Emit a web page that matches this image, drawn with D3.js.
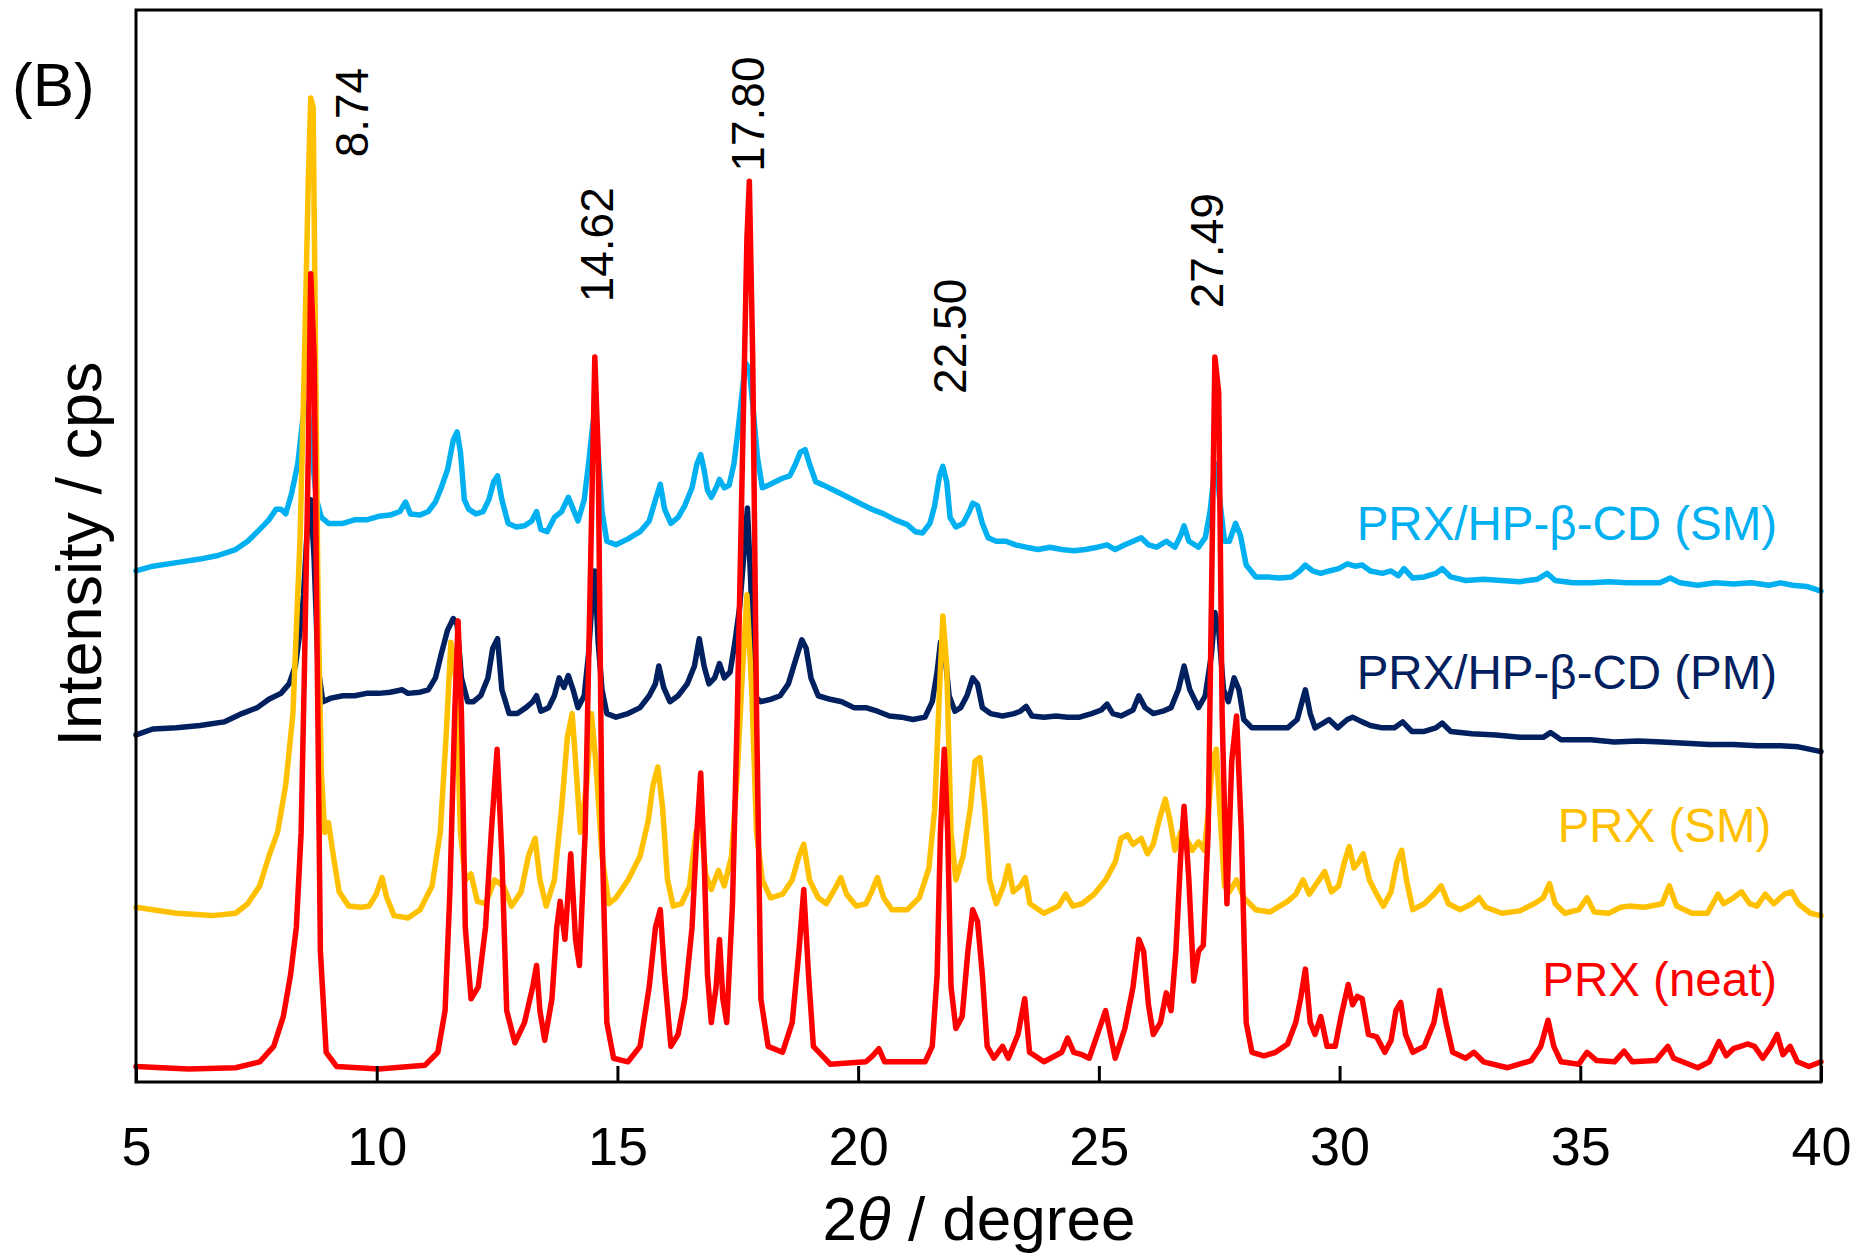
<!DOCTYPE html>
<html>
<head>
<meta charset="utf-8">
<script src="https://cdn.jsdelivr.net/npm/d3@7"></script>
<style>
  html, body { margin: 0; padding: 0; background: #fff; }
  svg { display: block; }
  text { font-family: "Liberation Sans", Arial, sans-serif; }
</style>
</head>
<body>
<div id="chart"></div>
<script>
// ---- data: [2theta (deg), intensity (a.u.)] ----
const xTicks = [5, 10, 15, 20, 25, 30, 35, 40];
const peakNames = ["8.74", "14.62", "17.80", "22.50", "27.49"];
const seriesNames = ["PRX/HP-β-CD (SM)", "PRX/HP-β-CD (PM)", "PRX (SM)", "PRX (neat)"];

const cdSM = [
  [5.00,430],[5.35,434],[5.84,437],[6.33,440],[6.70,443],[7.07,448],[7.32,455],[7.57,465],[7.76,473],[7.91,482],
  [8.01,482],[8.11,478],[8.23,495],[8.36,520],[8.43,545],[8.50,570],[8.58,565],[8.65,530],[8.75,490],[8.85,475],
  [9.00,470],[9.30,470],[9.54,473],[9.79,473],[10.04,476],[10.28,477],[10.48,480],[10.60,488],[10.70,478],[10.90,477],
  [11.07,480],[11.22,488],[11.34,500],[11.47,515],[11.59,540],[11.67,547],[11.74,530],[11.82,490],[11.91,482],[12.06,478],
  [12.21,480],[12.33,490],[12.43,505],[12.51,510],[12.60,490],[12.73,470],[12.90,467],[13.07,468],[13.22,472],[13.32,480],
  [13.41,465],[13.54,463],[13.69,475],[13.84,480],[13.98,492],[14.08,482],[14.18,472],[14.31,490],[14.40,520],[14.48,550],
  [14.53,565],[14.60,530],[14.68,480],[14.78,455],[14.97,452],[15.22,457],[15.47,463],[15.66,472],[15.79,490],[15.89,503],
  [15.98,482],[16.11,470],[16.26,475],[16.40,485],[16.55,500],[16.65,520],[16.73,528],[16.80,515],[16.87,498],[16.95,492],
  [17.05,500],[17.12,507],[17.22,500],[17.32,502],[17.42,520],[17.51,550],[17.59,580],[17.66,605],[17.74,600],[17.81,570],
  [17.91,525],[18.01,500],[18.13,502],[18.28,505],[18.43,508],[18.58,510],[18.70,520],[18.80,530],[18.90,532],[18.99,520],
  [19.12,505],[19.29,502],[19.54,497],[19.79,492],[20.03,487],[20.28,482],[20.53,478],[20.77,473],[21.02,469],[21.19,463],
  [21.34,462],[21.49,470],[21.59,485],[21.69,510],[21.76,518],[21.84,505],[21.91,475],[22.03,467],[22.18,470],[22.31,480],
  [22.38,487],[22.48,485],[22.58,470],[22.70,458],[22.87,455],[23.07,455],[23.27,452],[23.49,450],[23.74,448],[23.98,450],
  [24.23,448],[24.48,447],[24.72,448],[24.97,450],[25.17,452],[25.34,448],[25.54,452],[25.71,455],[25.88,458],[26.03,452],
  [26.20,450],[26.40,455],[26.58,450],[26.70,460],[26.77,468],[26.87,455],[27.07,450],[27.21,458],[27.31,480],[27.39,510],
  [27.44,520],[27.51,490],[27.61,455],[27.71,455],[27.84,470],[27.94,460],[28.06,435],[28.26,425],[28.50,425],[28.75,424],
  [29.00,425],[29.17,430],[29.29,435],[29.44,430],[29.61,428],[29.78,430],[29.98,432],[30.16,436],[30.32,434],[30.47,435],
  [30.64,430],[30.89,428],[31.07,430],[31.22,426],[31.34,432],[31.52,424],[31.76,425],[32.00,428],[32.13,432],[32.31,425],
  [32.62,422],[32.99,423],[33.37,422],[33.74,421],[34.11,423],[34.31,428],[34.48,422],[34.85,420],[35.22,420],[35.59,421],
  [35.96,420],[36.33,420],[36.65,420],[36.87,424],[37.07,420],[37.44,418],[37.81,420],[38.18,419],[38.55,420],[38.92,418],
  [39.16,420],[39.41,418],[39.70,417],[40.00,413]
];

const cdPM = [
  [5.00,292],[5.35,297],[5.84,298],[6.33,300],[6.83,303],[7.20,310],[7.52,315],[7.76,322],[8.01,327],[8.18,335],
  [8.31,350],[8.41,380],[8.48,410],[8.55,460],[8.63,490],[8.70,440],[8.78,350],[8.88,320],[9.05,323],[9.30,325],
  [9.54,325],[9.79,327],[10.04,327],[10.28,328],[10.53,330],[10.65,327],[10.90,328],[11.07,330],[11.22,340],[11.34,360],
  [11.47,380],[11.59,390],[11.67,385],[11.76,340],[11.89,320],[12.01,320],[12.16,325],[12.31,340],[12.41,365],[12.51,373],
  [12.60,330],[12.75,310],[12.92,310],[13.10,315],[13.24,320],[13.32,325],[13.41,312],[13.57,315],[13.69,325],[13.79,340],
  [13.89,332],[13.98,342],[14.08,330],[14.18,315],[14.31,325],[14.40,360],[14.48,410],[14.53,430],[14.60,370],[14.68,330],
  [14.78,310],[14.97,307],[15.22,310],[15.47,315],[15.66,325],[15.79,335],[15.86,350],[15.96,332],[16.09,320],[16.26,325],
  [16.45,335],[16.60,350],[16.70,373],[16.80,350],[16.90,335],[17.02,340],[17.12,352],[17.22,340],[17.34,345],[17.44,370],
  [17.54,400],[17.62,440],[17.70,483],[17.77,420],[17.84,325],[17.98,320],[18.18,322],[18.38,325],[18.55,335],[18.70,355],
  [18.83,372],[18.92,365],[19.02,340],[19.17,325],[19.42,322],[19.66,320],[19.91,315],[20.16,315],[20.40,312],[20.65,308],
  [20.90,307],[21.14,305],[21.39,307],[21.54,320],[21.64,345],[21.71,370],[21.79,365],[21.89,325],[22.01,312],[22.13,315],
  [22.26,325],[22.38,340],[22.48,335],[22.58,315],[22.75,310],[23.00,308],[23.24,310],[23.37,312],[23.49,316],[23.61,308],
  [23.86,307],[24.11,308],[24.35,307],[24.60,307],[24.85,310],[25.05,313],[25.17,318],[25.29,310],[25.46,308],[25.71,313],
  [25.83,325],[25.96,315],[26.13,310],[26.33,312],[26.50,315],[26.65,330],[26.77,350],[26.89,330],[27.07,315],[27.21,325],
  [27.34,360],[27.41,395],[27.49,380],[27.59,330],[27.69,320],[27.81,340],[27.91,330],[28.01,305],[28.18,298],[28.43,298],
  [28.67,298],[28.92,298],[29.12,305],[29.22,320],[29.29,330],[29.39,310],[29.49,298],[29.66,302],[29.78,305],[29.96,298],
  [30.16,305],[30.27,307],[30.47,303],[30.64,300],[30.89,298],[31.14,298],[31.31,303],[31.50,295],[31.76,295],[32.00,298],
  [32.13,302],[32.31,295],[32.75,293],[33.25,292],[33.74,290],[34.23,290],[34.38,294],[34.60,288],[35.22,288],[35.71,286],
  [36.20,287],[36.70,286],[37.19,285],[37.68,284],[38.18,284],[38.67,283],[39.16,283],[39.53,282],[40.00,278]
];

const prxSM = [
  [5.00,147],[5.84,142],[6.58,140],[7.07,142],[7.32,150],[7.57,165],[7.76,190],[7.94,210],[8.11,250],[8.26,310],
  [8.41,460],[8.50,610],[8.58,760],[8.63,828],[8.68,820],[8.73,610],[8.78,410],[8.85,260],[8.92,210],[9.00,218],
  [9.10,190],[9.22,160],[9.42,148],[9.67,147],[9.84,148],[9.99,158],[10.11,172],[10.21,155],[10.36,140],[10.65,138],
  [10.90,145],[11.15,165],[11.32,210],[11.44,290],[11.54,370],[11.64,340],[11.74,210],[11.84,170],[11.96,175],[12.09,152],
  [12.26,150],[12.45,170],[12.63,165],[12.80,148],[13.00,160],[13.15,190],[13.29,205],[13.39,170],[13.52,148],[13.69,170],
  [13.84,230],[13.96,290],[14.06,310],[14.13,270],[14.23,210],[14.36,250],[14.46,310],[14.55,270],[14.68,190],[14.82,150],
  [14.97,155],[15.22,170],[15.47,190],[15.64,220],[15.74,250],[15.84,265],[15.94,230],[16.04,170],[16.16,148],[16.33,150],
  [16.50,165],[16.63,210],[16.73,220],[16.83,175],[16.95,162],[17.10,178],[17.22,165],[17.37,190],[17.49,260],[17.59,340],
  [17.69,410],[17.79,330],[17.89,210],[18.01,170],[18.18,155],[18.43,158],[18.63,170],[18.77,190],[18.87,200],[18.99,170],
  [19.17,155],[19.34,150],[19.51,162],[19.64,172],[19.76,158],[19.96,148],[20.16,150],[20.28,160],[20.40,172],[20.53,155],
  [20.70,145],[21.02,145],[21.27,155],[21.47,180],[21.59,230],[21.69,330],[21.76,392],[21.84,350],[21.93,210],[22.03,170],
  [22.18,190],[22.33,230],[22.43,270],[22.53,273],[22.63,230],[22.73,170],[22.87,150],[23.02,165],[23.12,182],[23.22,160],
  [23.37,165],[23.47,172],[23.57,150],[23.86,142],[24.16,148],[24.31,158],[24.46,148],[24.65,150],[24.90,158],[25.14,170],
  [25.34,185],[25.46,205],[25.59,208],[25.71,200],[25.88,205],[26.01,192],[26.13,200],[26.25,220],[26.38,238],[26.48,220],
  [26.58,195],[26.70,210],[26.82,205],[26.94,195],[27.07,202],[27.19,195],[27.28,230],[27.36,270],[27.44,280],[27.51,230],
  [27.61,165],[27.71,160],[27.86,170],[28.01,155],[28.26,145],[28.55,143],[28.92,152],[29.09,158],[29.24,170],[29.37,158],
  [29.54,168],[29.69,177],[29.83,160],[29.98,165],[30.10,185],[30.20,198],[30.30,180],[30.40,185],[30.49,192],[30.62,170],
  [30.77,158],[30.91,148],[31.07,160],[31.19,185],[31.29,195],[31.39,170],[31.52,145],[31.76,150],[31.96,158],[32.11,165],
  [32.26,150],[32.51,145],[32.75,150],[32.90,155],[33.04,147],[33.37,142],[33.74,144],[34.04,150],[34.23,155],[34.36,167],
  [34.48,150],[34.68,142],[34.97,145],[35.14,155],[35.29,143],[35.59,142],[35.84,147],[36.01,148],[36.33,147],[36.70,150],
  [36.85,165],[37.00,148],[37.32,142],[37.64,142],[37.86,158],[37.98,150],[38.18,155],[38.35,160],[38.52,150],[38.67,148],
  [38.84,158],[39.02,150],[39.24,158],[39.39,160],[39.53,150],[39.78,142],[40.00,140]
];

const prxNeat = [
  [5.00,13],[6.09,11],[7.07,12],[7.57,17],[7.86,30],[8.06,55],[8.21,90],[8.33,130],[8.43,210],[8.50,350],
  [8.58,530],[8.63,680],[8.70,610],[8.75,410],[8.83,110],[8.95,25],[9.17,13],[10.04,11],[11.00,14],[11.27,25],
  [11.42,60],[11.52,160],[11.62,310],[11.69,388],[11.76,310],[11.84,130],[11.96,70],[12.11,80],[12.26,130],[12.38,210],
  [12.50,280],[12.60,190],[12.70,60],[12.87,33],[13.07,50],[13.24,80],[13.32,98],[13.39,60],[13.49,35],[13.64,70],
  [13.74,130],[13.81,152],[13.91,120],[14.03,192],[14.13,120],[14.21,98],[14.33,210],[14.43,410],[14.53,610],[14.60,530],
  [14.68,210],[14.78,50],[14.92,20],[15.22,17],[15.47,30],[15.66,80],[15.79,130],[15.89,145],[15.98,90],[16.11,30],
  [16.26,40],[16.40,70],[16.55,130],[16.65,210],[16.73,260],[16.80,190],[16.87,90],[16.95,50],[17.05,80],[17.12,120],
  [17.19,70],[17.27,50],[17.39,150],[17.49,310],[17.59,510],[17.69,710],[17.74,758],[17.81,610],[17.89,310],[17.98,70],
  [18.13,30],[18.43,25],[18.63,50],[18.77,110],[18.87,162],[18.97,90],[19.07,30],[19.42,15],[20.16,17],[20.30,22],
  [20.43,28],[20.55,17],[21.39,17],[21.54,30],[21.64,90],[21.71,210],[21.79,280],[21.86,210],[21.93,80],[22.03,45],
  [22.16,55],[22.28,110],[22.38,145],[22.48,135],[22.58,90],[22.68,30],[22.82,20],[23.00,30],[23.12,20],[23.32,40],
  [23.46,70],[23.56,25],[23.86,17],[24.23,25],[24.35,37],[24.48,25],[24.65,23],[24.80,20],[24.97,40],[25.14,60],
  [25.24,40],[25.34,20],[25.54,45],[25.71,80],[25.83,120],[25.93,110],[26.03,65],[26.13,40],[26.28,50],[26.40,75],
  [26.50,60],[26.60,110],[26.70,190],[26.77,232],[26.87,170],[26.97,85],[27.07,110],[27.17,115],[27.27,210],[27.34,410],
  [27.41,610],[27.49,580],[27.56,310],[27.66,150],[27.76,270],[27.86,308],[27.96,210],[28.06,50],[28.18,25],[28.43,22],
  [28.67,25],[28.92,32],[29.09,50],[29.19,70],[29.29,95],[29.39,50],[29.49,40],[29.61,55],[29.74,30],[29.91,30],
  [30.03,55],[30.18,82],[30.27,65],[30.37,72],[30.47,70],[30.60,40],[30.77,38],[30.94,25],[31.07,35],[31.17,60],
  [31.27,67],[31.37,40],[31.52,25],[31.76,30],[31.96,50],[32.08,77],[32.21,50],[32.35,25],[32.62,20],[32.79,25],
  [32.99,17],[33.49,12],[33.98,18],[34.18,30],[34.33,52],[34.45,30],[34.60,17],[34.97,15],[35.14,25],[35.34,18],
  [35.71,17],[35.91,26],[36.08,17],[36.57,18],[36.82,30],[36.94,20],[37.44,12],[37.68,17],[37.88,34],[38.03,22],
  [38.18,28],[38.33,30],[38.47,32],[38.62,30],[38.79,20],[38.96,30],[39.09,40],[39.21,23],[39.36,30],[39.51,17],
  [39.75,13],[40.00,17]
];

// ---- layout ----
const width = 1860, height = 1256;
const plot = { left: 136, right: 1821, top: 10, bottom: 1082 };
const colors = ["#00b0f0", "#002060", "#ffc000", "#ff0000"];
const series = [cdSM, cdPM, prxSM, prxNeat];

// where the texts sit, in data units
const peakLabelAt = [[9.81, 778], [14.90, 656], [18.05, 766], [22.24, 579], [27.57, 651]];
const seriesLabelAt = [[39.09, 456], [39.09, 331], [38.97, 202], [39.09, 72]];

const svg = d3.select("#chart").append("svg")
  .attr("width", width)
  .attr("height", height)
  .attr("xmlns", "http://www.w3.org/2000/svg");

svg.append("rect").attr("width", width).attr("height", height).attr("fill", "#fff");

const x = d3.scaleLinear().domain([5, 40]).range([plot.left, plot.right]);
const y = d3.scaleLinear().domain([0, 902]).range([plot.bottom, plot.top]);

// traces
const line = d3.line()
  .x(d => x(d[0]))
  .y(d => y(d[1]));

svg.append("g")
  .selectAll("path")
  .data(series)
  .enter()
  .append("path")
  .attr("d", d => line(d))
  .attr("fill", "none")
  .attr("stroke", (d, i) => colors[i])
  .attr("stroke-width", 5.5)
  .attr("stroke-linejoin", "round")
  .attr("stroke-linecap", "round");

// frame
svg.append("rect")
  .attr("x", plot.left)
  .attr("y", plot.top)
  .attr("width", plot.right - plot.left)
  .attr("height", plot.bottom - plot.top)
  .attr("fill", "none")
  .attr("stroke", "#000")
  .attr("stroke-width", 3);

// x axis, ticks pointing inward
const xAxis = d3.axisBottom(x)
  .tickValues(xTicks)
  .tickFormat(d3.format("d"))
  .tickSizeInner(-16)
  .tickSizeOuter(0)
  .tickPadding(45);

const gx = svg.append("g")
  .attr("transform", `translate(0,${plot.bottom})`)
  .call(xAxis);
gx.select(".domain").remove();
gx.selectAll(".tick line").attr("stroke", "#000").attr("stroke-width", 3);
gx.selectAll(".tick text")
  .attr("font-size", 54)
  .attr("font-family", "'Liberation Sans', Arial, sans-serif")
  .attr("fill", "#000");

// axis titles
const xTitle = svg.append("text")
  .attr("x", 979)
  .attr("y", 1240)
  .attr("text-anchor", "middle")
  .attr("font-size", 62)
  .attr("fill", "#000");
xTitle.append("tspan").text("2");
xTitle.append("tspan").attr("font-style", "italic").text("θ");
xTitle.append("tspan").text(" / degree");

svg.append("text")
  .attr("transform", "translate(101,554) rotate(-90)")
  .attr("text-anchor", "middle")
  .attr("font-size", 63)
  .attr("fill", "#000")
  .text("Intensity / cps");

// panel letter
svg.append("text")
  .attr("x", 12)
  .attr("y", 106)
  .attr("font-size", 62)
  .attr("fill", "#000")
  .text("(B)");

// peak annotations
svg.append("g")
  .selectAll("text")
  .data(peakNames)
  .enter()
  .append("text")
  .attr("transform", (d, i) => `translate(${x(peakLabelAt[i][0])},${y(peakLabelAt[i][1])}) rotate(-90)`)
  .attr("font-size", 46)
  .attr("fill", "#000")
  .text(d => d);

// series labels
svg.append("g")
  .selectAll("text")
  .data(seriesNames)
  .enter()
  .append("text")
  .attr("x", (d, i) => x(seriesLabelAt[i][0]))
  .attr("y", (d, i) => y(seriesLabelAt[i][1]))
  .attr("text-anchor", "end")
  .attr("font-size", 47.5)
  .attr("fill", (d, i) => colors[i])
  .text(d => d);
</script>
</body>
</html>
